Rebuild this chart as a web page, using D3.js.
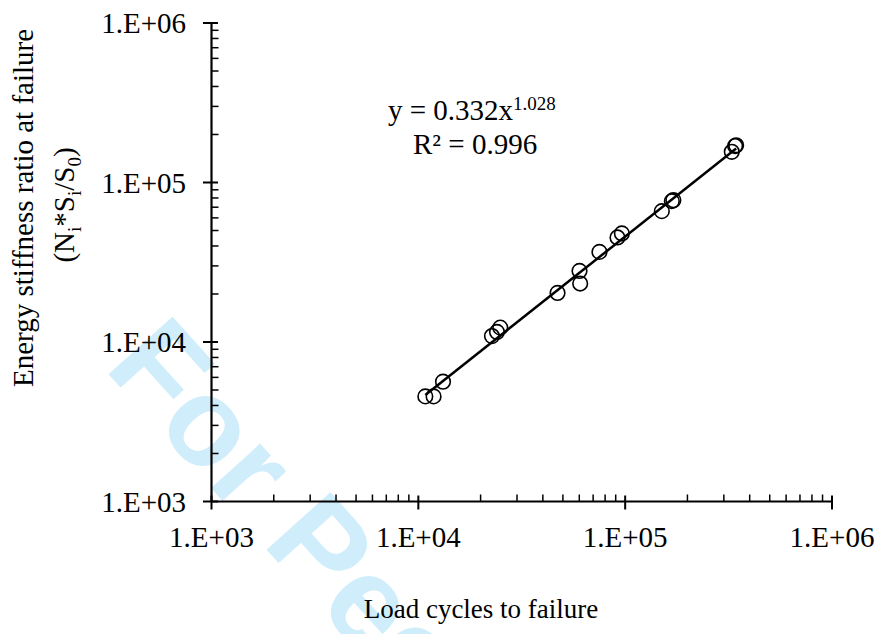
<!DOCTYPE html>
<html><head><meta charset="utf-8">
<script src="https://cdn.jsdelivr.net/npm/d3@7/dist/d3.min.js"></script>
<style>
body{margin:0;background:#fff;}
svg{display:block;}
text{font-family:"Liberation Serif","Times New Roman",serif;fill:#000;}
</style></head>
<body><div id="chart"></div>
<script>
// Data
const loadCycles = [10810, 11850, 13160, 22700, 24000, 24900, 47100, 60150, 60600, 75100, 91800, 96400, 150400, 168100, 171000, 327700, 340000, 344000];
const stiffnessRatio = [4560, 4560, 5640, 10900, 11560, 12310, 20300, 27900, 23260, 36730, 45220, 47920, 66130, 76400, 77500, 155800, 169300, 171000];
const xTickValues = [1e3, 1e4, 1e5, 1e6];
const yTickValues = [1e3, 1e4, 1e5, 1e6];
const tickLabels = ["1.E+03", "1.E+04", "1.E+05", "1.E+06"];
const fitA = 0.332, fitB = 1.028, fitR2 = "0.996";

const W = 882, H = 634;
const L = 211.5, R = 832, T = 23, B = 501.5;

const svg = d3.select("#chart").append("svg").attr("width", W).attr("height", H);

// watermark
svg.append("text")
  .attr("transform", "translate(103,368) rotate(48)")
  .style("font-family", "'Liberation Sans',Arial,sans-serif")
  .style("font-weight", "bold")
  .style("font-size", "125px")
  .style("fill", "#cfedfb")
  .text("For Peer Review");

const x = d3.scaleLog().domain([1e3, 1e6]).range([L, R]);
const y = d3.scaleLog().domain([1e3, 1e6]).range([B, T]);

function minorTicks(){
  const out = [];
  for (let d = 1e3; d < 1e6; d *= 10) for (let k = 2; k <= 9; k++) out.push(d * k);
  return out;
}
const minors = minorTicks();

const ax = svg.append("g");
ax.selectAll(".xm").data(minors).join("line")
  .attr("x1", d => x(d)).attr("x2", d => x(d))
  .attr("y1", B).attr("y2", B - 7)
  .attr("stroke", "#000").attr("stroke-width", 1.5);
ax.selectAll(".xM").data(xTickValues).join("line")
  .attr("x1", d => x(d)).attr("x2", d => x(d))
  .attr("y1", B - 6).attr("y2", B + 8)
  .attr("stroke", "#000").attr("stroke-width", 2);
ax.selectAll(".ym").data(minors).join("line")
  .attr("x1", L).attr("x2", L + 7)
  .attr("y1", d => y(d)).attr("y2", d => y(d))
  .attr("stroke", "#000").attr("stroke-width", 1.5);
ax.selectAll(".yM").data(yTickValues).join("line")
  .attr("x1", L - 8.5).attr("x2", L + 6.5)
  .attr("y1", d => y(d)).attr("y2", d => y(d))
  .attr("stroke", "#000").attr("stroke-width", 2);
ax.append("line").attr("x1", L).attr("x2", R).attr("y1", B).attr("y2", B)
  .attr("stroke", "#000").attr("stroke-width", 2.2);
ax.append("line").attr("x1", L).attr("x2", L).attr("y1", T).attr("y2", B)
  .attr("stroke", "#000").attr("stroke-width", 2.2);

// tick labels
svg.selectAll(".xl").data(xTickValues).join("text")
  .attr("x", d => x(d)).attr("y", 547)
  .attr("text-anchor", "middle").style("font-size", "29px")
  .text((d, i) => tickLabels[i]);
svg.selectAll(".yl").data(yTickValues).join("text")
  .attr("x", 186).attr("y", d => y(d) + 10)
  .attr("text-anchor", "end").style("font-size", "29px")
  .text((d, i) => tickLabels[i]);

// axis titles
svg.append("text").attr("x", 481).attr("y", 618).attr("text-anchor", "middle")
  .style("font-size", "27px").text("Load cycles to failure");
svg.append("text").attr("transform", "translate(33,208) rotate(-90)")
  .attr("text-anchor", "middle").style("font-size", "29px")
  .text("Energy stiffness ratio at failure");
const t2 = svg.append("text").attr("transform", "translate(74,205) rotate(-90)")
  .attr("text-anchor", "middle").style("font-size", "29px");
t2.append("tspan").text("(N");
t2.append("tspan").attr("dy", 7).style("font-size", "19px").text("i");
t2.append("tspan").attr("dy", -7).text("*S");
t2.append("tspan").attr("dy", 7).style("font-size", "19px").text("i");
t2.append("tspan").attr("dy", -7).text("/S");
t2.append("tspan").attr("dy", 7).style("font-size", "19px").text("0");
t2.append("tspan").attr("dy", -7).text(")");

// trendline
const xmin = d3.min(loadCycles), xmax = d3.max(loadCycles);
const fitPts = [xmin, xmax].map(v => [v, fitA * Math.pow(v, fitB)]);
svg.append("path").datum(fitPts)
  .attr("d", d3.line().x(d => x(d[0])).y(d => y(d[1])))
  .attr("fill", "none").attr("stroke", "#000").attr("stroke-width", 2.5);

// points
svg.selectAll(".pt").data(loadCycles).join("circle")
  .attr("cx", d => x(d)).attr("cy", (d, i) => y(stiffnessRatio[i]))
  .attr("r", 7.3).attr("fill", "none").attr("stroke", "#000").attr("stroke-width", 1.6);

// equation
const eq = svg.append("text").attr("x", 388).attr("y", 120).style("font-size", "29px");
eq.append("tspan").text("y = " + fitA.toFixed(3) + "x");
eq.append("tspan").attr("dy", -10).style("font-size", "19px").text(fitB.toFixed(3));
svg.append("text").attr("x", 413).attr("y", 154).style("font-size", "29px").text("R² = " + fitR2);
</script>
</body></html>
